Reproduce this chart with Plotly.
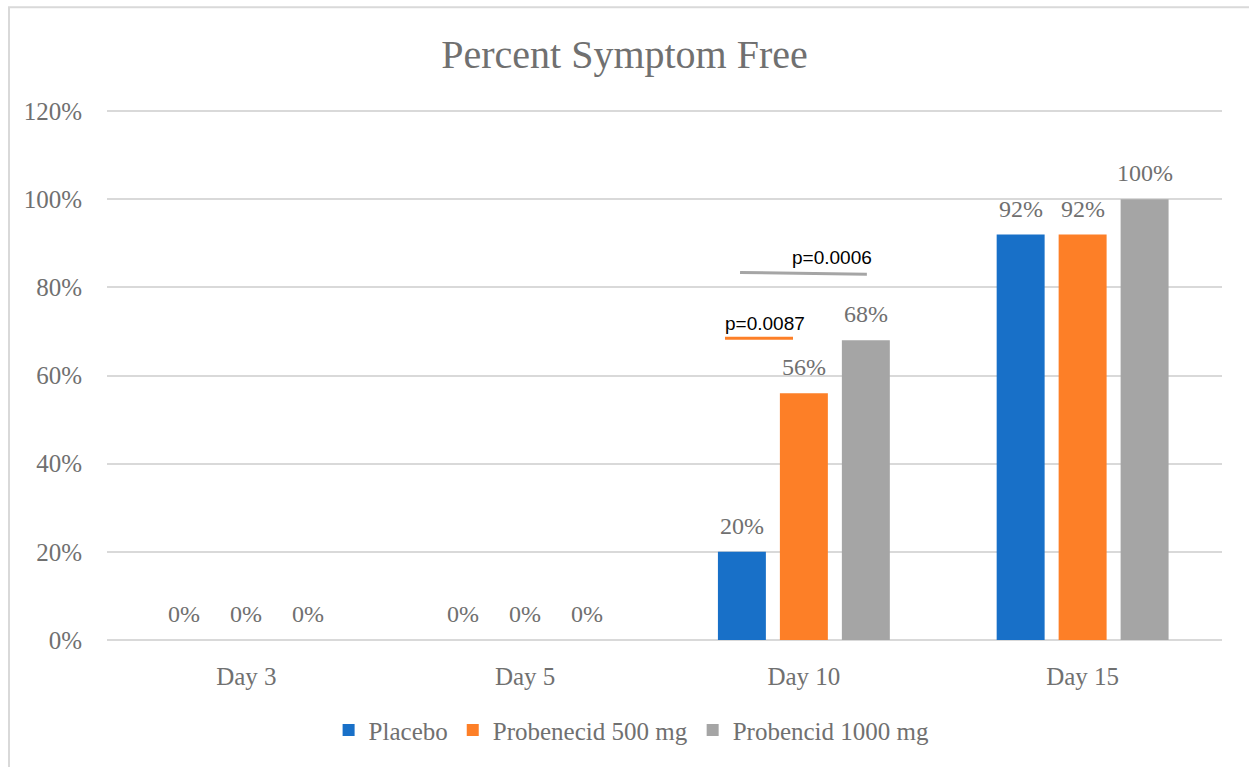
import plotly.graph_objects as go

# Chart data
days = ["Day 3", "Day 5", "Day 10", "Day 15"]
series_names = ["Placebo", "Probenecid 500 mg", "Probencid 1000 mg"]
placebo = [0, 0, 20, 92]
probenecid_500 = [0, 0, 56, 92]
probenecid_1000 = [0, 0, 68, 100]
y_ticks = [0, 20, 40, 60, 80, 100, 120]

colors = ["#1870C8", "#FD7F27", "#A5A5A5"]
text_color = "#707070"
serif = "Liberation Serif"

fig = go.Figure()
all_values = [placebo, probenecid_500, probenecid_1000]
for name, vals, col in zip(series_names, all_values, colors):
    fig.add_trace(go.Bar(x=days, y=vals, name=name, marker_color=col,
                         marker_line_width=0))

# Value labels above each bar, shifted to the bar's slot in the group
slot_px = 62
for k, vals in enumerate(all_values):
    for d, v in zip(days, vals):
        fig.add_annotation(x=d, y=v, xref="x", yref="y", text=f"{v}%",
                           showarrow=False, yanchor="bottom",
                           xshift=(k - 1) * slot_px, yshift=11,
                           font=dict(family=serif, size=24, color=text_color))

# Significance markers
fig.add_shape(type="line", xref="x", yref="y", x0=1.771, x1=2.226, y0=83.4, y1=83.0,
              line=dict(color="#A5A5A5", width=3))
fig.add_annotation(x=2.10, y=86.9, xref="x", yref="y", text="p=0.0006",
                   showarrow=False, font=dict(family="Liberation Sans", size=19, color="#000000"))
fig.add_shape(type="line", xref="x", yref="y", x0=1.717, x1=1.961, y0=68.5, y1=68.5,
              line=dict(color="#FD7F27", width=3))
fig.add_annotation(x=1.862, y=71.8, xref="x", yref="y", text="p=0.0087",
                   showarrow=False, font=dict(family="Liberation Sans", size=19, color="#000000"))

# Chart border
fig.add_shape(type="rect", xref="paper", yref="paper", x0=-0.0879, x1=1.2,
              y0=-0.5, y1=1.1915, line=dict(color="#D9D9D9", width=2), layer="below")

fig.update_layout(
    width=1249, height=767,
    margin=dict(l=106.5, r=27, t=108.8, b=127),
    paper_bgcolor="white", plot_bgcolor="white",
    barmode="group", bargap=0.333, bargroupgap=0.226,
    title=dict(text="Percent Symptom Free", x=0.5, xanchor="center", y=0.93,
               yanchor="middle", font=dict(family=serif, size=40, color=text_color)),
    legend=dict(orientation="h", x=0.4705, xanchor="center", y=-0.17, yanchor="middle",
                font=dict(family=serif, size=25, color=text_color)),
    showlegend=True,
)
fig.update_yaxes(range=[0, 120.5], tickvals=y_ticks, ticktext=[f"{t}%" for t in y_ticks],
                 showgrid=True, gridcolor="#D9D9D9", gridwidth=1.5,
                 zeroline=True, zerolinecolor="#D9D9D9", zerolinewidth=2,
                 showline=False, ticks="", ticklabelstandoff=24,
                 tickfont=dict(family=serif, size=25, color=text_color))
fig.update_xaxes(showgrid=False, showline=False, ticks="", ticklabelstandoff=19,
                 tickfont=dict(family=serif, size=25, color=text_color))

fig.write_html("out.html")
